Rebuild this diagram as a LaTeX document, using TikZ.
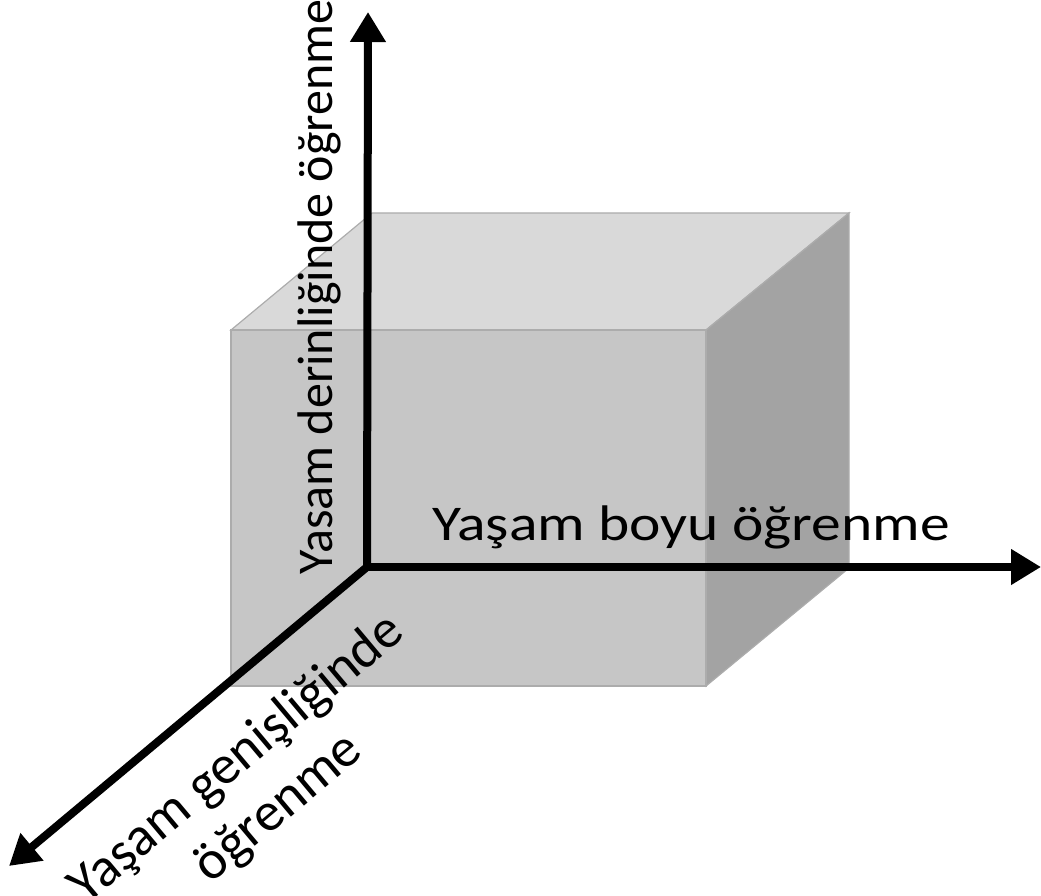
\documentclass[tikz,border=0pt]{standalone}
\usepackage{fontspec}
\setmainfont{Carlito}
\usetikzlibrary{arrows.meta}

\begin{document}
\begin{tikzpicture}[x=1pt,y=-1pt,
    edge/.style={draw=gray!65, line width=1.2pt},
    axis/.style={line width=8pt, -{Triangle[length=30pt,width=34pt]}},
    axislabel/.style={font=\fontsize{50}{58}\selectfont, inner sep=0pt}]
    \useasboundingbox (0,0) rectangle (1041,896);
    % cube corners
    \coordinate (A) at (231,330);
    \coordinate (B) at (706,330);
    \coordinate (C) at (706,686);
    \coordinate (D) at (231,686);
    \coordinate (E) at (372,213);
    \coordinate (F) at (849,213);
    \coordinate (G) at (849,568);
    \fill[gray!30, edge] (A) -- (E) -- (F) -- (B) -- cycle;
    \fill[gray!72, edge] (B) -- (F) -- (G) -- (C) -- cycle;
    \fill[gray!45, edge] (A) -- (B) -- (C) -- (D) -- cycle;
    % axes
    \coordinate (O) at (367,567);
    \coordinate (up) at (368,12);
    \coordinate (right) at (1041,567);
    \coordinate (down) at (9,866);
    \draw[axis] (O) -- (up);
    \draw[axis] (O) -- (right);
    \draw[axis] (O) -- (down);
    \node[axislabel, xscale=1.19, anchor=base west] (boyu) at (432,540) {Yaşam boyu öğrenme};
    \node[axislabel, rotate=90, anchor=south west] (derin) at (341,575) {Yasam derinliğinde öğrenme};
    \node[axislabel, font=\fontsize{55}{64}\selectfont, rotate=40, align=center] (genis) at (258,784) {Yaşam genişliğinde\\öğrenme};
\end{tikzpicture}
\end{document}
